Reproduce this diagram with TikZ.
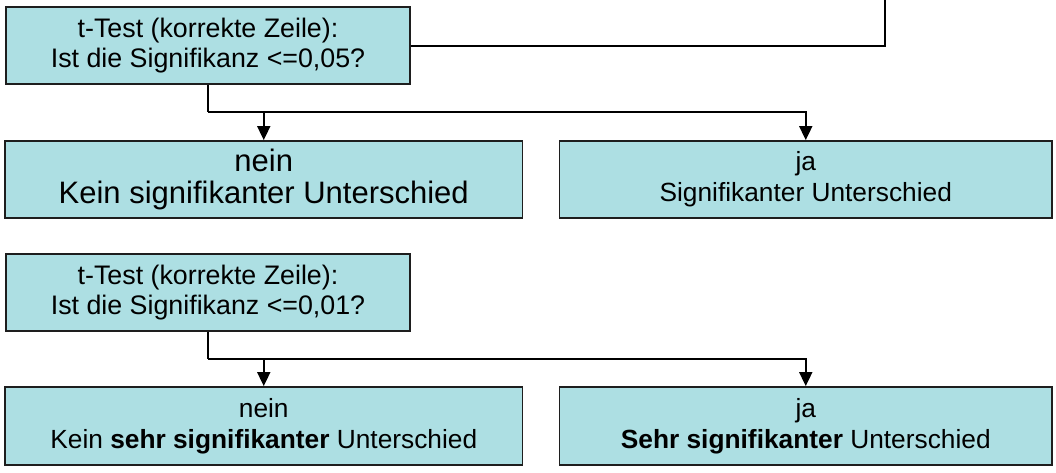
\documentclass[tikz,border=0pt]{standalone}
\usepackage{fontspec}
\setmainfont{Liberation Sans}
\usetikzlibrary{arrows.meta}
\definecolor{boxfill}{RGB}{173,223,227}
\definecolor{boxline}{RGB}{30,30,30}
\tikzset{
  qbox/.style={draw=boxline, line width=1.8pt, fill=boxfill, minimum width=404pt, minimum height=77pt,
    inner sep=0pt, align=center, font=\fontsize{26.8}{30}\selectfont},
  abox/.style={draw=boxline, line width=1.8pt, fill=boxfill, minimum height=77pt,
    inner sep=0pt, align=center, font=\fontsize{26.3}{31}\selectfont},
  bigtext/.style={font=\fontsize{31}{31.5}\selectfont},
  conn/.style={line width=1.8pt, draw=black},
  arr/.style={conn, -{Triangle[width=13pt,length=14pt]}}
}
\begin{document}
\begin{tikzpicture}[x=1pt,y=-1pt]
\useasboundingbox (0,0) rectangle (1056,473);
% top group
\node[qbox] (A) at (208,45.8) {t-Test (korrekte Zeile):\\Ist die Signifikanz <=0,05?};
\node[abox, bigtext, minimum width=517.5pt] (B) at (263.75,179.5) {nein\\Kein signifikanter Unterschied};
\node[abox, minimum width=492.5pt] (C) at (805.75,179.5) {ja\\Signifikanter Unterschied};
\coordinate (jA) at (208,112);
\coordinate (topR) at (885,-2);
\draw[conn] (A.east) -| (topR);
\draw[conn] (A.south) -- (jA);
\draw[arr] (jA) -| (B.north);
\draw[arr] (jA) -| (C.north);
% bottom group
\node[qbox] (D) at (208,292.5) {t-Test (korrekte Zeile):\\Ist die Signifikanz <=0,01?};
\node[abox, minimum width=517.5pt, minimum height=78pt] (E) at (263.75,426) {nein\\Kein \textbf{sehr signifikanter} Unterschied};
\node[abox, minimum width=492.5pt, minimum height=78pt] (F) at (805.75,426) {ja\\\textbf{Sehr signifikanter} Unterschied};
\coordinate (jD) at (208,358.7);
\draw[conn] (D.south) -- (jD);
\draw[arr] (jD) -| (E.north);
\draw[arr] (jD) -| (F.north);
\end{tikzpicture}
\end{document}
